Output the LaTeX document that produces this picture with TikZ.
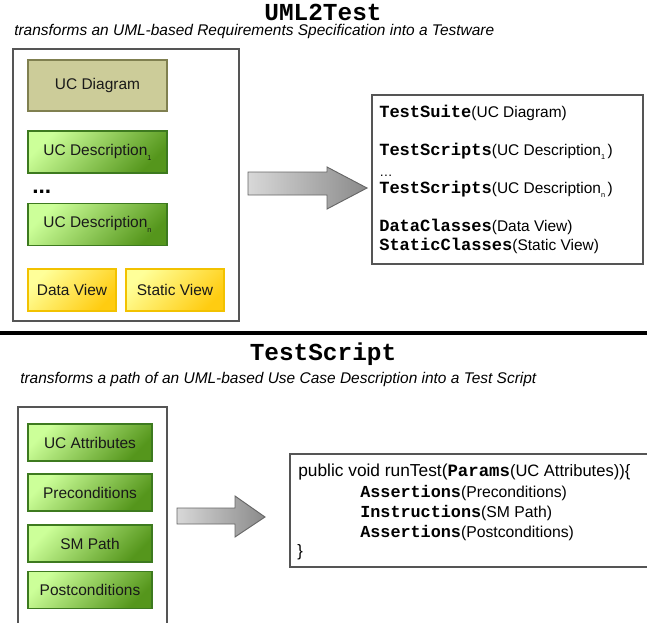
\documentclass[tikz,border=0pt]{standalone}
\usepackage{fontspec}
\setmainfont{Liberation Sans}
\newfontfamily\codefont{Liberation Mono}
\newcommand\mysub[1]{\raisebox{-0.6ex}{\fontsize{5.5}{5.5}\selectfont #1}}
\newcommand\kw[1]{{\codefont\bfseries #1}}
\definecolor{paneline}{HTML}{555555}
\definecolor{greenlight}{HTML}{CCFF99}
\definecolor{greendark}{HTML}{55961C}
\definecolor{greenline}{HTML}{3D7A1F}
\definecolor{olivefill}{HTML}{CCCC99}
\definecolor{oliveline}{HTML}{808050}
\definecolor{yellowlight}{HTML}{FFFF99}
\definecolor{yellowdark}{HTML}{FFCC11}
\definecolor{yellowline}{HTML}{F2C200}
\definecolor{arrowlight}{HTML}{D8D8D8}
\definecolor{arrowdark}{HTML}{8A8A8A}
\definecolor{arrowline}{HTML}{666666}
\begin{document}
\begin{tikzpicture}[x=0.75pt,y=-0.75pt,
  pane/.style={draw=paneline, line width=0.8pt, inner sep=0pt},
  boxtext/.style={font=\fontsize{11.6}{13}\selectfont, text=black!90, inner sep=0pt},
  olivebox/.style={boxtext, draw=oliveline, fill=olivefill, line width=0.8pt},
  greenbox/.style={boxtext, draw=greenline, line width=0.8pt, top color=greenlight, bottom color=greendark, shading angle=45},
  yellowbox/.style={boxtext, draw=yellowline, line width=0.8pt, top color=yellowlight, bottom color=yellowdark, shading angle=45},
  codeline/.style={anchor=base west, inner sep=0pt},
  topcode/.style={codeline, font=\fontsize{11.6}{13}\selectfont, /utils/exec=\def\kwsize{\fontsize{12.8}{14}\selectfont}},
  botcode/.style={codeline, font=\fontsize{11.8}{13}\selectfont, /utils/exec=\def\kwsize{\fontsize{12.6}{14}\selectfont}},
  titletext/.style={font=\codefont\bfseries\fontsize{18.3}{20}\selectfont, inner sep=0pt},
  subtitle/.style={font=\itshape\fontsize{11.6}{13}\selectfont, anchor=west, inner sep=0pt},
  blockarrow/.style={draw=arrowline, line width=0.7pt, left color=arrowlight, right color=arrowdark}
]
\useasboundingbox (0,0) rectangle (647,622);
\clip (0,0) rectangle (647,622);

% ---------- top part ----------
\node[titletext] (title1) at (323,12) {UML2Test};
\node[subtitle] (sub1) at (14,31.5) {transforms an UML-based Requirements Specification into a Testware};

\node[pane, minimum width=226*0.75pt, minimum height=272*0.75pt] (leftpane1) at (126,185) {};
\node[olivebox, minimum width=139*0.75pt, minimum height=51*0.75pt] (ucdiag) at (97.5,85.5) {UC Diagram};
\node[greenbox, minimum width=139*0.75pt, minimum height=42*0.75pt] (ucdesc1) at (97.5,152) {UC Description\mysub{1}};
\node[anchor=base west, inner sep=0pt, font=\bfseries\fontsize{17}{17}\selectfont] (dots1) at (32,193) {...};
\node[greenbox, minimum width=139*0.75pt, minimum height=42*0.75pt] (ucdescn) at (97.5,224.5) {UC Description\mysub{n}};
\node[yellowbox, minimum width=88*0.75pt, minimum height=42*0.75pt] (dataview) at (72,290) {Data View};
\node[yellowbox, minimum width=98*0.75pt, minimum height=42*0.75pt] (staticview) at (175,290) {Static View};

\shadedraw[blockarrow] (248,172) -- (327,172) -- (327,167) -- (367,188) -- (327,209) -- (327,195) -- (248,195) -- cycle;

\node[pane, minimum width=271*0.75pt, minimum height=169*0.75pt] (rightpane1) at (507.5,179.5) {};
\node[topcode] (r1) at (379,117) {{\kwsize\kw{TestSuite}}(UC Diagram)};
\node[topcode] (r2) at (379,155) {{\kwsize\kw{TestScripts}}(UC Description\mysub{1}\,)};
\node[codeline, font=\fontsize{10}{12}\selectfont] (r3) at (379,176) {…};
\node[topcode] (r4) at (379,193) {{\kwsize\kw{TestScripts}}(UC Description\mysub{n}\,)};
\node[topcode] (r5) at (379,231) {{\kwsize\kw{DataClasses}}(Data View)};
\node[topcode] (r6) at (379,250) {{\kwsize\kw{StaticClasses}}(Static View)};

% ---------- separator ----------
\coordinate (sepL) at (0,333);
\coordinate (sepR) at (647,333);
\draw[line width=2.4pt] (sepL) -- (sepR);

% ---------- bottom part ----------
\node[titletext] (title2) at (323,354) {TestScript};
\node[subtitle] (sub2) at (20,379) {transforms a path of an UML-based Use Case Description into a Test Script};

\node[pane, minimum width=149*0.75pt, minimum height=240*0.75pt] (leftpane2) at (92.5,527) {};
\node[greenbox, minimum width=124*0.75pt, minimum height=37*0.75pt] (ucattr) at (90,442.5) {UC Attributes};
\node[greenbox, minimum width=124*0.75pt, minimum height=37*0.75pt] (precond) at (90,492.5) {Preconditions};
\node[greenbox, minimum width=124*0.75pt, minimum height=37*0.75pt] (smpath) at (90,543.5) {SM Path};
\node[greenbox, minimum width=124*0.75pt, minimum height=37*0.75pt] (postcond) at (90,590) {Postconditions};

\shadedraw[blockarrow] (177,508) -- (235,508) -- (235,496) -- (265,517) -- (235,537) -- (235,524) -- (177,524) -- cycle;

\node[pane, minimum width=365*0.75pt, minimum height=113*0.75pt] (rightpane2) at (472.5,510.5) {};
\node[codeline] (b1) at (298,476) {{\fontsize{13}{15}\selectfont public void runTest(}{\codefont\bfseries\fontsize{13}{15}\selectfont Params}{\fontsize{12.4}{15}\selectfont (UC Attributes))\{}};
\node[botcode] (b2) at (360,497) {{\kwsize\kw{Assertions}}(Preconditions)};
\node[botcode] (b3) at (360,517) {{\kwsize\kw{Instructions}}(SM Path)};
\node[botcode] (b4) at (360,537) {{\kwsize\kw{Assertions}}(Postconditions)};
\node[codeline, font=\fontsize{12.4}{15}\selectfont] (b5) at (297,556) {\}};
\end{tikzpicture}
\end{document}
